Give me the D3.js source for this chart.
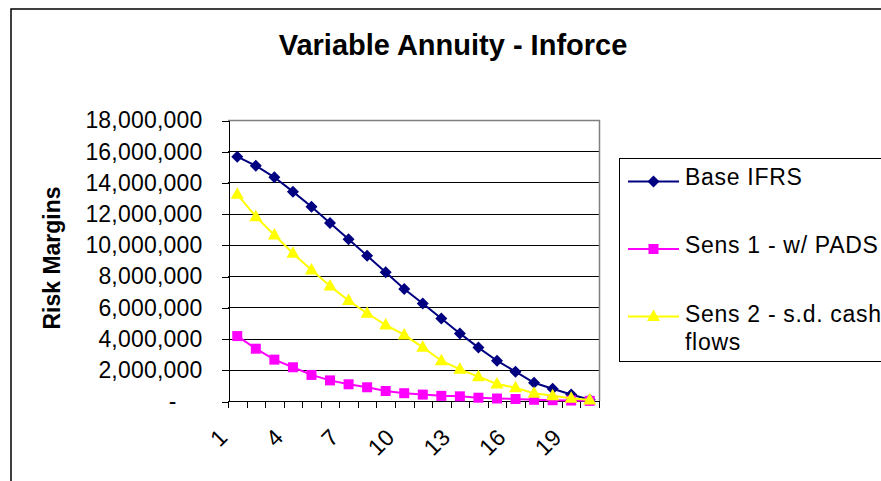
<!DOCTYPE html>
<html lang="en">
<head>
<meta charset="UTF-8">
<title>Variable Annuity - Inforce</title>
<script src="https://d3js.org/d3.v7.min.js"></script>
<style>
    body { margin: 0; background: #fff; }
    svg { display: block; font-family: "Liberation Sans", Arial, sans-serif; }
    .axis text { font-size: 23px; fill: #000; letter-spacing: 0.2px; }
    .axis path, .axis line { stroke: #000; shape-rendering: crispEdges; }
</style>
</head>
<body>
<script>
    // categories (projection years) and series values
    var categories = [1, 2, 3, 4, 5, 6, 7, 8, 9, 10, 11, 12, 13, 14, 15, 16, 17, 18, 19, 20];
    var xTickLabels = [1, 4, 7, 10, 13, 16, 19];
    var yTicks = [0, 2000000, 4000000, 6000000, 8000000, 10000000, 12000000, 14000000, 16000000, 18000000];

    var baseIFRS = [15650000, 15070000, 14330000, 13410000, 12450000, 11400000, 10360000, 9310000, 8240000, 7170000,
                    6250000, 5290000, 4330000, 3420000, 2580000, 1880000, 1170000, 780000, 420000, 80000];
    var sens1 = [4160000, 3350000, 2650000, 2160000, 1670000, 1320000, 1070000, 880000, 640000, 500000,
                 410000, 330000, 300000, 210000, 160000, 130000, 80000, 50000, 30000, 10000];
    var sens2 = [13240000, 11810000, 10630000, 9460000, 8390000, 7370000, 6430000, 5620000, 4870000, 4230000,
                 3440000, 2580000, 2030000, 1560000, 1090000, 850000, 490000, 330000, 170000, 60000];

    var seriesNames = ["Base IFRS", "Sens 1 - w/ PADS", "Sens 2 - s.d. cash flows"];

    var w = 881, h = 481;
    var plot = { left: 228, right: 599, top: 120, bottom: 401 };

    var svg = d3.select("body").append("svg")
        .attr("width", w)
        .attr("height", h);

    // outer chart frame (runs off the right and bottom edges)
    svg.append("rect")
        .attr("x", 11).attr("y", 9)
        .attr("width", 900).attr("height", 500)
        .attr("fill", "#fff")
        .attr("stroke", "#000")
        .attr("stroke-width", 1.5);

    var x = d3.scaleBand().domain(categories).range([plot.left, plot.right]);
    var y = d3.scaleLinear().domain([0, 18000000]).range([plot.bottom, plot.top]);
    var bw = x.bandwidth();
    var cx = d => x(d) + bw / 2;

    // gridlines
    svg.append("g").selectAll("line")
        .data(yTicks.filter(d => d > 0))
        .join("line")
        .attr("x1", plot.left).attr("x2", plot.right)
        .attr("y1", d => Math.round(y(d)) + 0.5).attr("y2", d => Math.round(y(d)) + 0.5)
        .attr("stroke", "#000");

    // plot area border top / right
    svg.append("path")
        .attr("d", "M" + plot.left + "," + (plot.top + 0.5) + "H" + (plot.right + 0.5) + "V" + plot.bottom)
        .attr("fill", "none")
        .attr("stroke", "#808080")
        .attr("stroke-width", 1.5);

    // y axis
    var yAxis = d3.axisLeft(y)
        .tickValues(yTicks)
        .tickSize(7)
        .tickSizeOuter(0)
        .tickPadding(19)
        .tickFormat(d => d === 0 ? "-" : d3.format(",")(d));

    var gy = svg.append("g")
        .attr("class", "axis")
        .attr("transform", "translate(" + (plot.left + 0.5) + ",0.5)")
        .call(yAxis);
    gy.selectAll(".tick text").filter(d => d === 0).attr("dx", "-26");

    // x axis: line plus ticks on category boundaries
    var gx = svg.append("g").attr("class", "axis");
    gx.append("line")
        .attr("x1", plot.left).attr("x2", plot.right + 1)
        .attr("y1", plot.bottom + 0.5).attr("y2", plot.bottom + 0.5);
    gx.selectAll(".xt")
        .data(categories.map(d => x(d)).concat([x(categories[categories.length - 1]) + bw]))
        .join("line")
        .attr("class", "xt")
        .attr("x1", d => Math.round(d) + 0.5).attr("x2", d => Math.round(d) + 0.5)
        .attr("y1", plot.bottom).attr("y2", plot.bottom + 7);
    gx.selectAll(".xl")
        .data(xTickLabels)
        .join("text")
        .attr("class", "xl")
        .attr("text-anchor", "end")
        .attr("dy", "0.35em")
        .attr("transform", d => "translate(" + (cx(d) - 14) + ",433) rotate(-45)")
        .text(d => d);

    // y axis title
    svg.append("text")
        .attr("transform", "translate(60,258) rotate(-90)")
        .attr("text-anchor", "middle")
        .attr("font-size", 23)
        .attr("font-weight", "bold")
        .text("Risk Margins");

    // chart title
    svg.append("text")
        .attr("x", 453)
        .attr("y", 55)
        .attr("text-anchor", "middle")
        .attr("font-size", 29)
        .attr("font-weight", "bold")
        .text("Variable Annuity - Inforce");

    // marker shapes
    var markers = {
        diamond: "M0,-6L6,0L0,6L-6,0Z",
        square: "M-5,-5H5V5H-5Z",
        triangle: "M0,-7L6.5,4.5H-6.5Z"
    };

    var series = [
        { name: seriesNames[0], values: baseIFRS, color: "#000080", marker: markers.diamond },
        { name: seriesNames[1], values: sens1, color: "#ff00ff", marker: markers.square },
        { name: seriesNames[2], values: sens2, color: "#ffff00", marker: markers.triangle }
    ];

    var line = d3.line()
        .x((d, i) => cx(categories[i]))
        .y(d => y(d));

    series.forEach(s => {
        var g = svg.append("g");
        g.append("path")
            .attr("d", line(s.values))
            .attr("fill", "none")
            .attr("stroke", s.color)
            .attr("stroke-width", 2);
        g.selectAll("path.m")
            .data(s.values)
            .join("path")
            .attr("class", "m")
            .attr("d", s.marker)
            .attr("transform", (d, i) => "translate(" + cx(categories[i]) + "," + y(d) + ")")
            .attr("fill", s.color);
    });

    // legend
    var lg = svg.append("g");
    lg.append("rect")
        .attr("x", 619.5).attr("y", 158.5)
        .attr("width", 300).attr("height", 203)
        .attr("fill", "#fff")
        .attr("stroke", "#000");

    var rowsY = [181.5, 249, 316.5];
    series.forEach((s, i) => {
        lg.append("line")
            .attr("x1", 628).attr("x2", 679)
            .attr("y1", rowsY[i]).attr("y2", rowsY[i])
            .attr("stroke", s.color)
            .attr("stroke-width", 2);
        lg.append("path")
            .attr("d", s.marker)
            .attr("transform", "translate(653.5," + rowsY[i] + ")")
            .attr("fill", s.color);
    });
    var legendText = [["Base IFRS"], ["Sens 1 - w/ PADS"], ["Sens 2 - s.d. cash", "flows"]];
    var baselines = [185, 253, 322];
    legendText.forEach((lines, i) => {
        var t = lg.append("text")
            .attr("x", 685)
            .attr("y", baselines[i])
            .attr("font-size", 23)
            .attr("letter-spacing", "0.7px");
        lines.forEach((l, j) => {
            t.append("tspan").attr("x", 685).attr("dy", j === 0 ? 0 : 28).text(l);
        });
    });
</script>
</body>
</html>
